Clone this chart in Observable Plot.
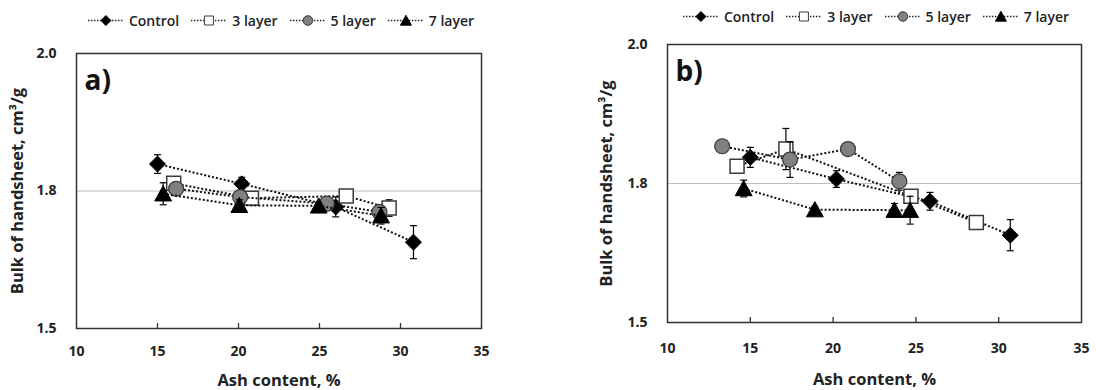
<!DOCTYPE html>
<html>
<head>
<meta charset="utf-8">
<script src="https://cdn.jsdelivr.net/npm/d3@7"></script>
<script src="https://cdn.jsdelivr.net/npm/@observablehq/plot@0.6"></script>
<style>
  html, body { margin: 0; padding: 0; background: #fff; }
  body { width: 1096px; height: 390px; position: relative; overflow: hidden; font-family: "Open Sans", "Noto Sans", sans-serif; }
  .panel { position: absolute; }
  .legend { position: absolute; display: flex; align-items: center; gap: 12px; font-size: 14px; font-weight: 600; color: #222; white-space: nowrap; transform: translate(-50%, -50%); }
  .legend .item { display: flex; align-items: center; gap: 5px; }
  .legend svg { display: block; }
</style>
</head>
<body>
<script>
// ---------- data ----------
const seriesNames = ["Control", "3 layer", "5 layer", "7 layer"];
const xTicks = [10, 15, 20, 25, 30, 35];
const yTicks = [1.5, 1.75, 2.0];
const yTickLabels = ["1.5", "1.8", "2.0"];
const xTitle = "Ash content, %";
const yTitle = "Bulk of handsheet, cm³/g";
const panelLabels = ["a)", "b)"];

// panel a) — per series: Control, 3 layer, 5 layer, 7 layer
const panelA_ash = [
  [15.0, 20.2, 26.0, 30.8],
  [16.0, 20.8, 26.65, 29.3],
  [16.15, 20.1, 25.45, 28.7],
  [15.35, 20.05, 24.95, 28.8]
];
const panelA_bulk = [
  [1.799, 1.763, 1.721, 1.657],
  [1.764, 1.737, 1.741, 1.719],
  [1.754, 1.739, 1.727, 1.712],
  [1.745, 1.724, 1.723, 1.705]
];
const panelA_err = [
  [0.017, 0.012, 0.018, 0.030],
  [0.010, 0.008, 0.006, 0.015],
  [0.006, 0.008, 0.006, 0.008],
  [0.020, 0.010, 0.006, 0.015]
];

// panel b)
const panelB_ash = [
  [15.0, 20.2, 25.85, 30.7],
  [14.2, 17.15, 24.7, 28.65],
  [13.3, 17.4, 20.9, 24.0],
  [14.6, 18.9, 23.7, 24.65]
];
const panelB_bulk = [
  [1.797, 1.758, 1.718, 1.657],
  [1.781, 1.812, 1.727, 1.680],
  [1.817, 1.793, 1.812, 1.754],
  [1.741, 1.703, 1.702, 1.702]
];
const panelB_err = [
  [0.018, 0.015, 0.016, 0.028],
  [0.006, 0.037, 0.008, 0.006],
  [0.006, 0.032, 0.008, 0.016],
  [0.015, 0.006, 0.012, 0.025]
];

// ---------- symbols ----------
const half = size => Math.sqrt(size / Math.PI);
const symDiamond = { draw(c, s) { const r = half(s); c.moveTo(0, -r); c.lineTo(r, 0); c.lineTo(0, r); c.lineTo(-r, 0); c.closePath(); } };
const symSquare = { draw(c, s) { const r = half(s); c.moveTo(-r, -r); c.lineTo(r, -r); c.lineTo(r, r); c.lineTo(-r, r); c.closePath(); } };
const symCircle = { draw(c, s) { const r = half(s); c.moveTo(r, 0); c.arc(0, 0, r, 0, 2 * Math.PI); c.closePath(); } };
const symTriangle = { draw(c, s) { const r = half(s); c.moveTo(0, -r); c.lineTo(r * 1.05, r * 0.9); c.lineTo(-r * 1.05, r * 0.9); c.closePath(); } };
const symCap = { draw(c, s) { const r = half(s); c.moveTo(-r, 0); c.lineTo(r, 0); } };

const styles = [
  { symbol: symDiamond, r: 8, fill: "#000", stroke: "#000", strokeWidth: 1, lr: 5 },
  { symbol: symSquare, r: 7, fill: "#fff", stroke: "#3a3a3a", strokeWidth: 1.5, lr: 4.5 },
  { symbol: symCircle, r: 7.5, fill: "#808080", stroke: "#3a3a3a", strokeWidth: 1.2, lr: 4.8 },
  { symbol: symTriangle, r: 8, fill: "#000", stroke: "#000", strokeWidth: 1, lr: 5.2 }
];

function makePanel(ash, bulk, err, lay) {
  const marks = [
    Plot.ruleY([yTicks[1]], { stroke: "#bdbdbd", strokeWidth: 1 }),
    Plot.frame({ stroke: "#333", strokeWidth: 1.5 }),
    Plot.ruleX(xTicks.slice(1, -1), { x: d => d, y1: yTicks[0], y2: yTicks[0], insetBottom: 5, stroke: "#333", strokeWidth: 1.3 }),
    Plot.axisX({ ticks: xTicks, tickSize: 0, tickPadding: lay.xPad, fontSize: 14, fontWeight: "bold", fill: "#222", label: null }),
    Plot.axisY({ ticks: yTicks, tickSize: 0, tickPadding: 20, tickFormat: d => yTickLabels[yTicks.indexOf(d)], fontSize: 14, fontWeight: "bold", fill: "#222", label: null }),
    Plot.text([xTitle], { frameAnchor: "bottom", dy: lay.xTitleDy, textAnchor: "middle", lineAnchor: "middle", text: d => d, fontSize: 16.5, fontWeight: "bold", fill: "#222" }),
    Plot.text([yTitle], { frameAnchor: "left", dx: lay.yTitleDx, rotate: -90, textAnchor: "middle", lineAnchor: "middle", text: d => d, fontSize: 16.5, fontWeight: "bold", fill: "#222" }),
    Plot.text([lay.label], { frameAnchor: "top-left", dx: 8, dy: 17, textAnchor: "start", lineAnchor: "top", text: d => d, fontSize: 28, fontWeight: "bold", fill: "#111" })
  ];
  seriesNames.forEach((name, si) => {
    const rows = ash[si].map((x, i) => ({ x, y: bulk[si][i], e: err[si][i] }));
    const st = styles[si];
    marks.push(
      Plot.ruleX(rows, { x: "x", y1: d => d.y - d.e, y2: d => d.y + d.e, stroke: "#000", strokeWidth: 1.2 }),
      Plot.dot(rows, { x: "x", y: d => d.y - d.e, symbol: symCap, r: 3.5, stroke: "#000", strokeWidth: 1.2, fill: "none" }),
      Plot.dot(rows, { x: "x", y: d => d.y + d.e, symbol: symCap, r: 3.5, stroke: "#000", strokeWidth: 1.2, fill: "none" }),
      Plot.line(rows, { x: "x", y: "y", stroke: "#111", strokeWidth: 2, strokeDasharray: "2,2", strokeLinecap: "butt" }),
      Plot.dot(rows, { x: "x", y: "y", symbol: st.symbol, r: st.r, fill: st.fill, stroke: st.stroke, strokeWidth: st.strokeWidth })
    );
  });
  const svg = Plot.plot({
    width: 548, height: 360,
    marginLeft: lay.ml, marginRight: lay.mr, marginTop: lay.mt, marginBottom: lay.mb,
    x: { domain: [xTicks[0], xTicks[xTicks.length - 1]] },
    y: { domain: [yTicks[0], yTicks[yTicks.length - 1]] },
    style: { fontFamily: "'Open Sans', 'Noto Sans', sans-serif", background: "transparent", overflow: "visible" },
    marks
  });
  const wrap = document.createElement("div");
  wrap.className = "panel";
  wrap.style.left = lay.left + "px";
  wrap.style.top = lay.top + "px";
  wrap.appendChild(svg);
  document.body.appendChild(wrap);

  // legend
  const leg = document.createElement("div");
  leg.className = "legend";
  leg.style.left = lay.legX + "px";
  leg.style.top = lay.legY + "px";
  const ns = "http://www.w3.org/2000/svg";
  seriesNames.forEach((name, si) => {
    const st = styles[si];
    const item = document.createElement("div");
    item.className = "item";
    const s = document.createElementNS(ns, "svg");
    s.setAttribute("width", 36); s.setAttribute("height", 12);
    const ln = document.createElementNS(ns, "line");
    ln.setAttribute("x1", 0); ln.setAttribute("x2", 36); ln.setAttribute("y1", 6); ln.setAttribute("y2", 6);
    ln.setAttribute("stroke", "#222"); ln.setAttribute("stroke-width", 1.5); ln.setAttribute("stroke-dasharray", "1.5,1.5");
    s.appendChild(ln);
    const p = d3.path();
    st.symbol.draw(p, Math.PI * st.lr * st.lr);
    const path = document.createElementNS(ns, "path");
    path.setAttribute("d", p.toString());
    path.setAttribute("transform", "translate(18,6)");
    path.setAttribute("fill", st.fill); path.setAttribute("stroke", st.stroke); path.setAttribute("stroke-width", 1);
    s.appendChild(path);
    item.appendChild(s);
    const t = document.createElement("span");
    t.textContent = name;
    item.appendChild(t);
    leg.appendChild(item);
  });
  document.body.appendChild(leg);
}

makePanel(panelA_ash, panelA_bulk, panelA_err, {
  left: 0, top: 30, ml: 76, mr: 67, mt: 23, mb: 62, xPad: 18,
  xTitleDy: 52, yTitleDx: -59, label: panelLabels[0], legX: 281, legY: 20
});
makePanel(panelB_ash, panelB_bulk, panelB_err, {
  left: 548, top: 30, ml: 119, mr: 15, mt: 14, mb: 68, xPad: 21,
  xTitleDy: 57, yTitleDx: -61, label: panelLabels[1], legX: 876, legY: 16
});
</script>
</body>
</html>
